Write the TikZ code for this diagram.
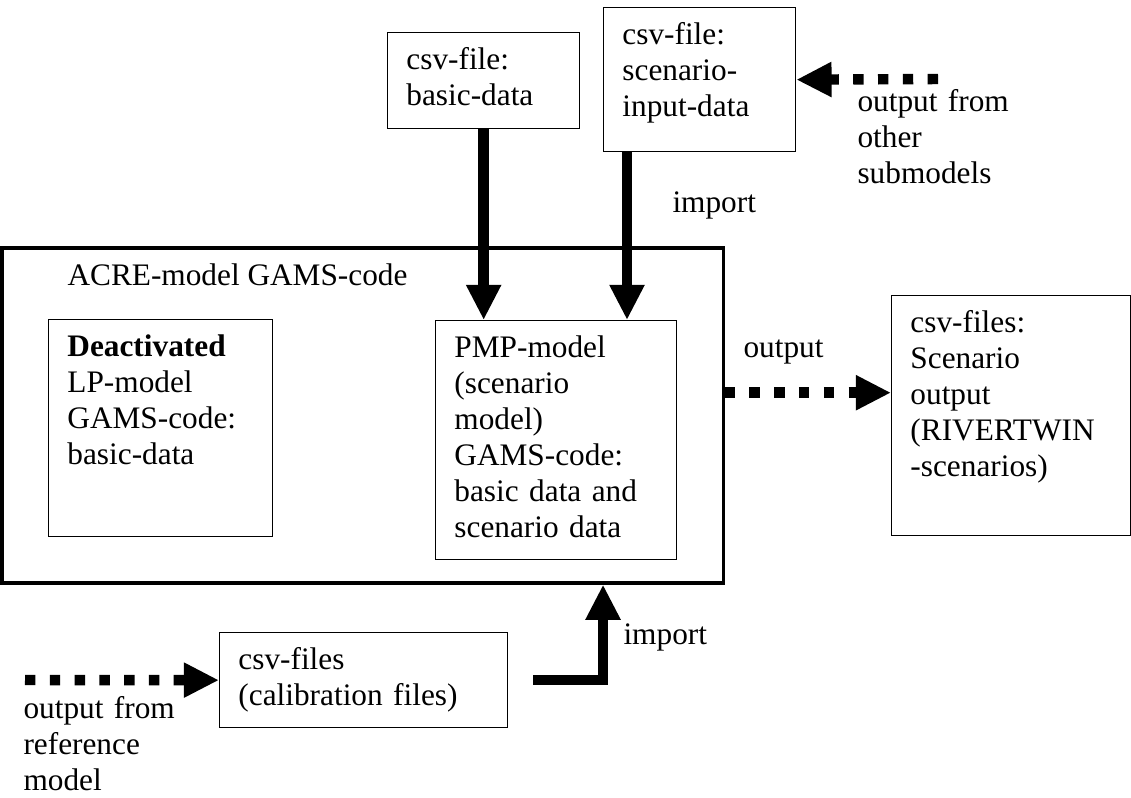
\documentclass[tikz,border=0pt]{standalone}
\usepackage{fontspec}
\setmainfont{Liberation Serif}
\usepackage{tikz}
\usetikzlibrary{arrows.meta}
\tikzstyle{Box}=[draw,line width=0.5pt,anchor=north west,align=left,
inner xsep=7.2pt,inner ysep=0pt,text height=14.3pt,
font=\fontsize{12}{13.8}\selectfont]
\tikzstyle{Frame}=[draw,line width=1.2pt,inner sep=0pt]
\tikzstyle{Label}=[anchor=base west,align=left,inner sep=0pt,
font=\fontsize{12}{13.8}\selectfont]
\tikzstyle{Arrow}=[line width=4pt,-{Triangle[width=12.6pt,length=13.5pt]}]
\tikzstyle{DotArrow}=[Arrow,dash pattern=on 4pt off 5.5pt]

\begin{document}
\begin{tikzpicture}[x=0.3833pt,y=-0.3833pt]
        \useasboundingbox(0,0)rectangle(1131,797);
        % model frame
        \node[Frame,minimum width=276.4pt,minimum height=128.4pt](acre)at(362.5,415.5){};
        \node[Label](acretxt)at(67,285){ACRE-model GAMS-code};
        \node[Box,text width=71.5pt,text depth=68.9pt](deact)at(48,319){\textbf{Deactivated}\\LP-model\\GAMS-code:\\basic-data};
        \node[Box,text width=78pt,text depth=77.3pt](pmp)at(435,320){PMP-model\\(scenario\\model)\\GAMS-code:\\basic data and\\scenario data};
        % csv files
        \node[Box,text width=59.2pt,text depth=22.5pt](basic)at(387,32){csv-file:\\basic-data};
        \node[Box,text width=59.2pt,text depth=40.9pt](scen)at(603,7){csv-file:\\scenario-\\input-data};
        \node[Box,text width=77.2pt,text depth=77.7pt](out)at(891,295){csv-files:\\Scenario\\output\\(RIVERTWIN\\-scenarios)};
        \node[Box,text width=96pt,text depth=22.1pt](calib)at(219,632){csv-files\\(calibration files)};
        % labels
        \node[Label,text width=60pt](subtxt)at(857,111){output from\\other\\submodels};
        \node[Label,text width=60pt](reftxt)at(23,718){output from\\reference\\model};
        \node[Label](imp1)at(672,212){import};
        \node[Label](imp2)at(623,644){import};
        \node[Label](outtxt)at(743,357){output};
        % arrows
        \draw[Arrow](basic.south)--(basic.south|-pmp.north);
        \coordinate(s)at([xshift=9.2pt]scen.south west);
        \draw[Arrow](s)--(s|-pmp.north);
        \coordinate(sub)at(938,79);
        \draw[DotArrow](sub)--(scen.east);
        \coordinate(o)at([yshift=8.8pt]out.west);
        \draw[DotArrow](acre.east|-o)--(o);
        \coordinate(ref)at(25,680);
        \draw[DotArrow](ref)--(calib.west);
        \coordinate(c)at([xshift=9.6pt]calib.east);
        \draw[Arrow](c)-|([xshift=92.2pt]acre.south);
    \end{tikzpicture}
\end{document}
